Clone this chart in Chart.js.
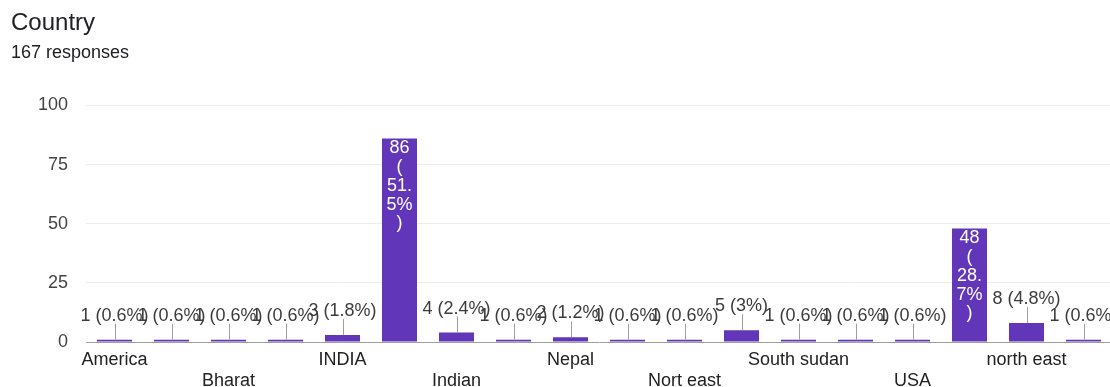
<!DOCTYPE html>
<html>
<head>
<meta charset="utf-8">
<title>Country</title>
<script src="https://cdn.jsdelivr.net/npm/chart.js@4.4.1/dist/chart.umd.min.js"></script>
<style>
  html, body { margin: 0; padding: 0; background: #ffffff; overflow: hidden; }
  #wrap { position: absolute; left: 0; top: 0; width: 1112px; height: 387px; }
</style>
</head>
<body>
<div id="wrap"><canvas id="chart"></canvas></div>
<script>
// Answers to "Country", in the order the form groups them
const categories = [
  'America', 'Bangladesh', 'Bharat', 'Bhutan', 'INDIA', 'India', 'Indian', 'Kenya', 'Nepal',
  'Nigeria', 'Nort east', 'North East', 'South sudan', 'Sri Lanka', 'USA', 'india',
  'north east', 'northeast'
];
const responses = [1, 1, 1, 1, 3, 86, 4, 1, 2, 1, 1, 5, 1, 1, 1, 48, 8, 1];
const yTicks = [0, 25, 50, 75, 100];

const total = responses.reduce((a, b) => a + b, 0);
const FONT = '"Liberation Sans", Arial, Helvetica, sans-serif';
const BAR_COLOR = '#6236b8';

function percentText(v) {
  return (Math.round(v / total * 1000) / 10) + '%';
}

// Break a label into lines no wider than maxW, splitting after "(" and "." and before ")"
function wrapLabel(ctx, text, maxW) {
  const lines = [];
  let cur = '';
  text.split(' ').forEach((word, w) => {
    const parts = word.match(/\(|\)|[^().]+\.?/g) || [word];
    parts.forEach((part, p) => {
      const joiner = (p === 0 && w > 0 && cur) ? ' ' : '';
      const candidate = cur + joiner + part;
      if (cur && ctx.measureText(candidate).width > maxW) {
        lines.push(cur);
        cur = part;
      } else {
        cur = candidate;
      }
    });
  });
  if (cur) lines.push(cur);
  return lines;
}

// Value labels: inside tall bars (white, wrapped), above short bars with a stem
const barLabels = {
  id: 'barLabels',
  afterDatasetsDraw(chart) {
    const ctx = chart.ctx;
    const meta = chart.getDatasetMeta(0);
    const lineH = 18.7;
    ctx.save();
    ctx.font = '18px ' + FONT;
    ctx.textAlign = 'center';
    ctx.textBaseline = 'middle';
    meta.data.forEach((bar, i) => {
      const v = responses[i];
      const text = v + ' (' + percentText(v) + ')';
      const { x, y, base, width } = bar.getProps(['x', 'y', 'base', 'width'], true);
      const lines = wrapLabel(ctx, text, width - 8);
      if (lines.length * lineH + 6 < base - y) {
        ctx.fillStyle = '#ffffff';
        lines.forEach((ln, k) => ctx.fillText(ln, x, y + 10 + k * lineH));
      } else {
        const sx = Math.round(x) + 0.5;
        ctx.strokeStyle = '#9e9e9e';
        ctx.lineWidth = 1;
        ctx.beginPath();
        ctx.moveTo(sx, y);
        ctx.lineTo(sx, y - 16);
        ctx.stroke();
        ctx.fillStyle = '#3c3c3c';
        ctx.fillText(text, x, y - 24);
      }
    });
    ctx.restore();
  }
};

new Chart(document.getElementById('chart'), {
  type: 'bar',
  data: {
    labels: categories,
    datasets: [{
      data: responses,
      backgroundColor: BAR_COLOR,
      borderWidth: 0,
      categoryPercentage: 1,
      barPercentage: 0.615
    }]
  },
  options: {
    responsive: true,
    maintainAspectRatio: false,
    animation: false,
    layout: { padding: { left: 11, right: 0, top: 0, bottom: 0 } },
    plugins: {
      legend: { display: false },
      tooltip: { enabled: false },
      title: {
        display: true,
        text: 'Country',
        align: 'start',
        color: '#202124',
        font: { family: FONT, size: 24, weight: 'normal' },
        padding: { top: 9, bottom: 0 }
      },
      subtitle: {
        display: true,
        text: total + ' responses',
        align: 'start',
        color: '#202124',
        font: { family: FONT, size: 18, weight: 'normal' },
        padding: { top: 4, bottom: 42 }
      }
    },
    scales: {
      x: {
        grid: { display: false, drawTicks: false },
        border: { display: true, color: '#9e9e9e', width: 1 },
        afterFit(scale) { scale.height = 45; },
        ticks: {
          autoSkip: false,
          maxRotation: 0,
          minRotation: 0,
          padding: 7,
          color: '#222222',
          font: { family: FONT, size: 18 },
          callback(value, index) {
            if (index % 2 !== 0) return '';
            const name = categories[index];
            return (index / 2) % 2 === 0 ? [name] : ['', name];
          }
        }
      },
      y: {
        min: yTicks[0],
        max: yTicks[yTicks.length - 1],
        border: { display: false },
        grid: {
          drawTicks: false,
          color(ctx) { return ctx.tick && ctx.tick.value === 0 ? 'rgba(0,0,0,0)' : '#ececec'; }
        },
        afterFit(scale) { scale.width = 75; },
        afterBuildTicks(scale) { scale.ticks = yTicks.map(v => ({ value: v })); },
        ticks: {
          padding: 18,
          color: '#444444',
          font: { family: FONT, size: 18 }
        }
      }
    }
  },
  plugins: [barLabels]
});
</script>
</body>
</html>
